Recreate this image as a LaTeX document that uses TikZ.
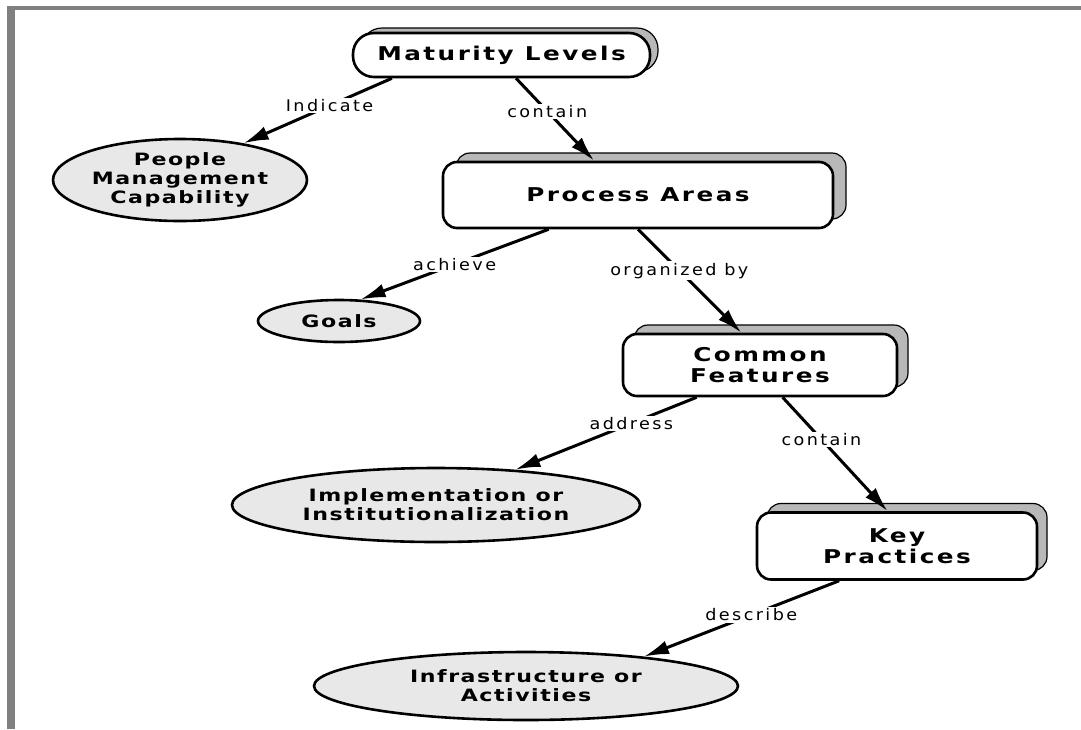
\documentclass[tikz,border=0pt]{standalone}
\usepackage{fontspec}
\usetikzlibrary{shapes.geometric,shadows,arrows.meta}
\newfontfamily\nodefont{DejaVu Sans}[FakeStretch=1.3,LetterSpace=13]
\newfontfamily\ovalfont{DejaVu Sans}[FakeStretch=1.3,LetterSpace=9]
\newfontfamily\lblfont{DejaVu Sans}[FakeStretch=1.1,LetterSpace=15]
\definecolor{framegray}{gray}{0.5}
\definecolor{shade}{gray}{0.72}
\definecolor{ellfill}{gray}{0.91}
\tikzset{
  box/.style 2 args={rectangle, rounded corners=14pt, draw=black, line width=2.6pt,
    fill=white, inner xsep=-60pt, inner ysep=-20pt, align=center,
    font=\nodefont\bfseries\fontsize{19}{21}\selectfont,
    copy shadow={shadow xshift=#1, shadow yshift=#2, fill=shade, draw=black, line width=1.2pt}},
  oval/.style={ellipse, draw=black, line width=2.6pt, fill=ellfill, inner xsep=-100pt,
    inner ysep=-30pt, align=center, font=\ovalfont\bfseries\fontsize{17}{19}\selectfont},
  conn/.style={line width=3pt, -{Latex[length=25pt,width=14pt]}},
  lbl/.style={fill=white, inner sep=1.5pt, font=\lblfont\fontsize{16}{18}\selectfont}
}
\begin{document}
\begin{tikzpicture}[x=1pt,y=-1pt]
\useasboundingbox (0,0) rectangle (1081,729);
\fill[white] (0,0) rectangle (1081,729);
\fill[framegray] (7,6) rectangle (15,729);
\fill[framegray] (7,6) rectangle (1081,10);

\node[box={8pt}{5pt}, rounded corners=21pt, minimum width=297pt, minimum height=44pt] (ML) at (501.5,55) {Maturity Levels};
\node[box={13pt}{9pt}, minimum width=390pt, minimum height=66pt] (PA) at (638,195) {Process Areas};
\node[box={11pt}{9pt}, minimum width=274pt, minimum height=62pt] (CF) at (760,365) {Common\\Features};
\node[box={10pt}{9pt}, minimum width=280pt, minimum height=67pt] (KP) at (897,546) {Key\\Practices};

\node[oval, minimum width=254pt, minimum height=82pt] (PMC) at (180,180) {People\\Management\\Capability};
\node[oval, minimum width=162pt, minimum height=42pt] (GO) at (339,321) {Goals};
\node[oval, minimum width=408pt, minimum height=74pt] (IM) at (436,505) {Implementation or\\Institutionalization};
\node[oval, minimum width=424pt, minimum height=68pt] (IA) at (526,686) {Infrastructure or\\Activities};

\draw[conn] (ML.192) -- (PMC.30) node[lbl, pos=0.42] {Indicate};
\draw[conn] (ML.-58.5) -- (PA.142) node[lbl, pos=0.4] {contain};
\draw[conn] (PA.-159.4) -- (GO.45) node[lbl, pos=0.5] {achieve};
\draw[conn] (PA.-90) -- (CF.120) node[lbl, pos=0.4] {organized by};
\draw[conn] (CF.-153) -- (IM.24) node[lbl, pos=0.36] {address};
\draw[conn] (CF.-55.5) -- (KP.105) node[lbl, pos=0.37] {contain};
\draw[conn] (KP.-149) -- (IA.14.5) node[lbl, pos=0.45] {describe};
\end{tikzpicture}
\end{document}
